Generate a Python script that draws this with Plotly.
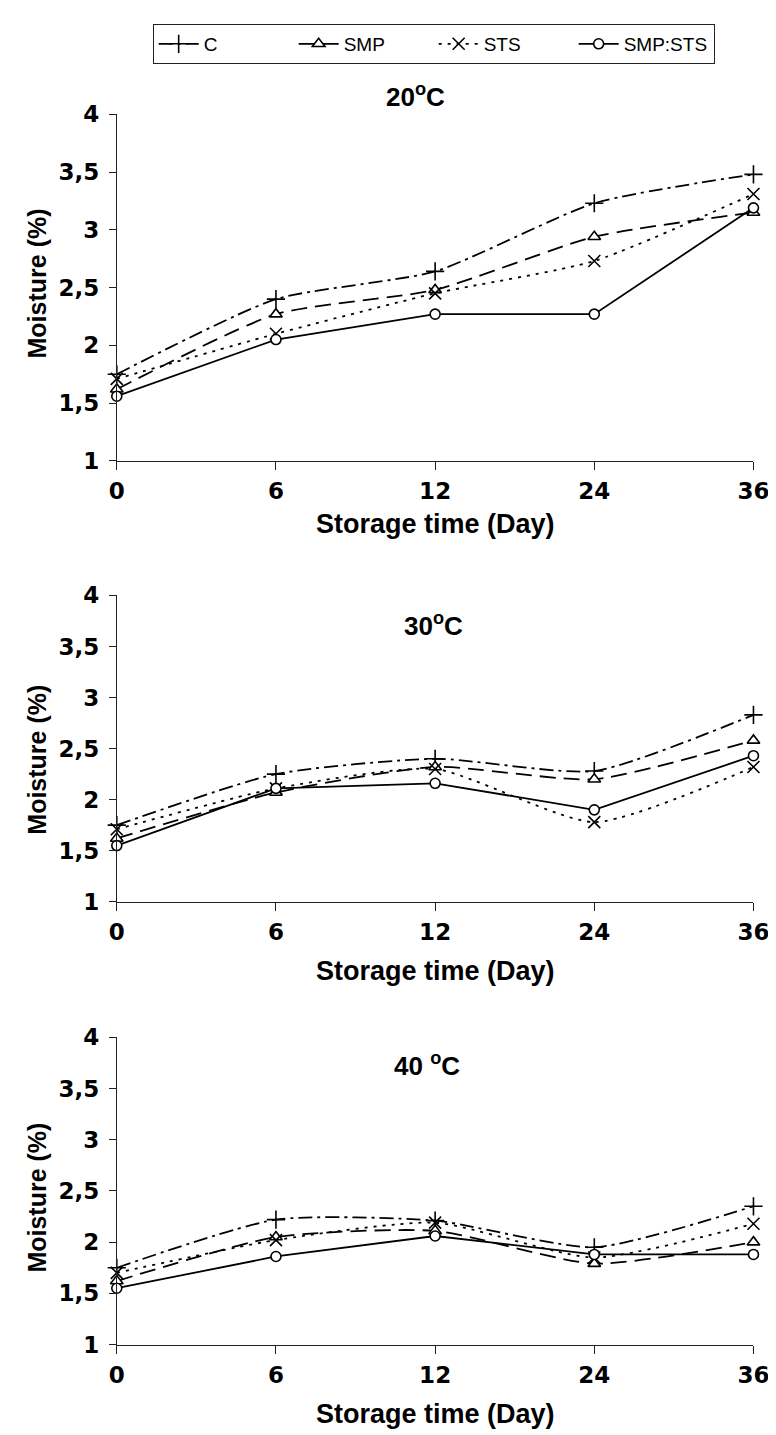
import plotly.graph_objects as go

# ---------------- data ----------------
days = ["0", "6", "12", "24", "36"]
series_names = ["C", "SMP", "STS", "SMP:STS"]
panel_titles = ["20<sup>o</sup>C", "30<sup>o</sup>C", "40 <sup>o</sup>C"]
x_title = "Storage time (Day)"
y_title = "Moisture (%)"

c_20 = [1.75, 2.40, 2.64, 3.23, 3.48]
smp_20 = [1.62, 2.27, 2.48, 2.94, 3.15]
sts_20 = [1.71, 2.10, 2.45, 2.73, 3.31]
mix_20 = [1.56, 2.05, 2.27, 2.27, 3.19]

c_30 = [1.75, 2.25, 2.40, 2.28, 2.83]
smp_30 = [1.62, 2.07, 2.32, 2.20, 2.58]
sts_30 = [1.71, 2.11, 2.30, 1.78, 2.32]
mix_30 = [1.55, 2.11, 2.16, 1.90, 2.43]

c_40 = [1.75, 2.22, 2.21, 1.95, 2.35]
smp_40 = [1.62, 2.05, 2.11, 1.79, 2.00]
sts_40 = [1.70, 2.02, 2.19, 1.85, 2.18]
mix_40 = [1.55, 1.86, 2.06, 1.88, 1.88]

panels = [
    [c_20, smp_20, sts_20, mix_20],
    [c_30, smp_30, sts_30, mix_30],
    [c_40, smp_40, sts_40, mix_40],
]

# ---------------- styles ----------------
W, H = 776, 1435
FONT = "Liberation Sans, Arial, sans-serif"
TICKFONT = "DejaVu Sans, sans-serif"

styles = [
    dict(dash="14px,5px,3px,5px", symbol="cross-thin", size=13, shape="spline"),
    dict(dash="16px,8px", symbol="triangle-up", size=11, shape="spline"),
    dict(dash="3px,6px", symbol="x-thin", size=12, shape="spline"),
    dict(dash="solid", symbol="circle", size=10, shape="linear"),
]

# pixel layout of the three panels (top, bottom of plot area)
panel_px = [(95, 448), (585, 897), (1035, 1348)]
xtitle_px = [512, 968, 1419]
ytitle_px = [267, 752, 1198]
title_px = [(412, 76), (431, 615), (424, 1063)]
x_left, x_right = 104, 761


def py(px):
    return 1 - px / H


fig = go.Figure()

for p, data in enumerate(panels):
    xa = "x" if p == 0 else f"x{p + 1}"
    ya = "y" if p == 0 else f"y{p + 1}"
    for s, (name, vals) in enumerate(zip(series_names, data)):
        st = styles[s]
        is_filled = st["symbol"] in ("triangle-up", "circle")
        fig.add_trace(go.Scatter(
            x=days, y=vals, name=name, xaxis=xa, yaxis=ya,
            mode="lines+markers",
            line=dict(color="black", width=1.8, dash=st["dash"], shape=st["shape"],
                      smoothing=0.6 if st["shape"] == "spline" else None),
            marker=dict(symbol=st["symbol"], size=st["size"],
                        color="white" if is_filled else "black",
                        line=dict(color="black", width=1.6)),
            cliponaxis=False,
            showlegend=(p == 0),
        ))

axis_common_x = dict(
    type="category", categoryorder="array", categoryarray=days,
    range=[0, 4], showline=True, linecolor="#222", linewidth=1,
    ticks="outside", ticklen=8, tickcolor="#222", tickwidth=1,
    showgrid=False, zeroline=False,
    tickfont=dict(family=TICKFONT, size=23, color="black", weight="bold"),
    ticklabelstandoff=2,
    domain=[x_left / W, x_right / W], fixedrange=True,
)
axis_common_y = dict(
    range=[1, 4], dtick=0.5, tick0=1, showline=True, linecolor="#222", linewidth=1,
    ticks="outside", ticklen=7, tickcolor="#222", tickwidth=1,
    showgrid=False, zeroline=False,
    tickfont=dict(family=TICKFONT, size=23, color="black", weight="bold"),
    ticklabelstandoff=5, fixedrange=True,
)

layout_axes = {}
annotations = []
for p in range(3):
    top, bot = panel_px[p]
    xk = "xaxis" if p == 0 else f"xaxis{p + 1}"
    yk = "yaxis" if p == 0 else f"yaxis{p + 1}"
    ya = "y" if p == 0 else f"y{p + 1}"
    xa = "x" if p == 0 else f"x{p + 1}"
    layout_axes[xk] = dict(axis_common_x, anchor=ya)
    layout_axes[yk] = dict(axis_common_y, anchor=xa, domain=[py(bot), py(top)])
    # panel title
    tx, ty = title_px[p]
    annotations.append(dict(
        text=panel_titles[p], x=tx / W, y=py(ty), xref="paper", yref="paper",
        xanchor="center", yanchor="middle", showarrow=False,
        font=dict(family=FONT, size=26, color="black", weight="bold")))
    # x axis title
    annotations.append(dict(
        text=x_title, x=(x_left + x_right) / 2 / W, y=py(xtitle_px[p]),
        xref="paper", yref="paper", xanchor="center", yanchor="middle",
        showarrow=False,
        font=dict(family=FONT, size=27, color="black", weight="bold")))
    # y axis title
    annotations.append(dict(
        text=y_title, x=22 / W, y=py(ytitle_px[p]), xref="paper", yref="paper",
        xanchor="center", yanchor="middle", textangle=-90, showarrow=False,
        font=dict(family=FONT, size=25, color="black", weight="bold")))

fig.update_layout(
    width=W, height=H,
    margin=dict(l=0, r=0, t=0, b=0),
    paper_bgcolor="white", plot_bgcolor="white",
    separators=",.",
    showlegend=True,
    legend=dict(
        orientation="h", x=431 / W, xanchor="center", y=py(3), yanchor="top",
        bordercolor="#222", borderwidth=1, bgcolor="white",
        font=dict(family=FONT, size=19, color="black"),
        itemwidth=40, tracegroupgap=0, entrywidth=85,
    ),
    annotations=annotations,
    **layout_axes,
)

fig.write_html("out.html")
